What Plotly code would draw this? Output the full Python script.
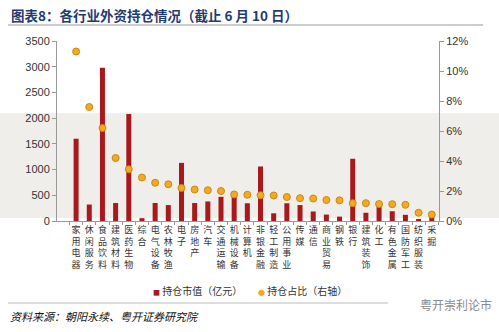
import plotly.graph_objects as go

categories = ["家用电器", "休闲服务", "食品饮料", "建筑材料", "医药生物", "综合", "电气设备",
              "农林牧渔", "电子", "房地产", "汽车", "交通运输", "机械设备", "计算机",
              "非银金融", "轻工制造", "公用事业", "传媒", "通信", "商业贸易", "钢铁",
              "银行", "建筑装饰", "化工", "有色金属", "国防军工", "纺织服装", "采掘"]
holding_value = [1600, 320, 2980, 350, 2080, 55, 350, 310, 1130, 350, 380, 470, 480, 345,
                 1060, 150, 345, 310, 185, 125, 85, 1210, 160, 380, 190, 120, 25, 90]
holding_pct = [11.3, 7.6, 6.2, 4.2, 3.45, 2.9, 2.55, 2.45, 2.2, 2.1, 2.05, 2.0, 1.77, 1.75,
               1.72, 1.7, 1.6, 1.52, 1.5, 1.4, 1.38, 1.19, 1.19, 1.13, 1.12, 1.08, 0.55, 0.43]
left_ticks = [0, 500, 1000, 1500, 2000, 2500, 3000, 3500]
right_ticks = [0, 2, 4, 6, 8, 10, 12]
right_ticklabels = ["0%", "2%", "4%", "6%", "8%", "10%", "12%"]
series_names = ["持仓市值（亿元）", "持仓占比（右轴）"]

vertical_labels = ["<br>".join(list(c)) for c in categories]

BAR_COLOR = "#a8191c"
DOT_COLOR = "#f6a823"

W, H = 499, 332
L, R, T, B = 57, 60, 41, 111
PW, PH = W - L - R, H - T - B


def px(x):
    return (x - L) / PW


def py(y):
    return (H - B - y) / PH


fig = go.Figure()
fig.add_trace(go.Bar(
    x=categories, y=holding_value, name=series_names[0],
    marker=dict(color=BAR_COLOR, line=dict(width=0)), width=0.38,
))
fig.add_trace(go.Scatter(
    x=categories, y=holding_pct, name=series_names[1], yaxis="y2", mode="markers",
    marker=dict(color=DOT_COLOR, size=7, line=dict(color="#c98a10", width=1)),
))

axis_font = dict(family="Liberation Sans, Arial", size=11, color="#333")
legend_font = dict(family="Noto Sans CJK SC", size=10, color="#333")
fig.update_layout(
    width=W, height=H,
    margin=dict(l=L, r=R, t=T, b=B, pad=0),
    paper_bgcolor="white", plot_bgcolor="rgba(0,0,0,0)",
    showlegend=False,
    xaxis=dict(
        type="category", range=[-1.45, 27.55],
        tickvals=categories, ticktext=vertical_labels,
        tickfont=dict(family="Noto Sans CJK SC", size=9, color="#333"),
        tickangle=0, showline=True, linecolor="#999", linewidth=1,
        ticks="outside", ticklen=3, tickcolor="#999", tickson="boundaries",
        showgrid=False, zeroline=False,
    ),
    yaxis=dict(
        range=[0, 3500], tickvals=left_ticks, tickfont=axis_font,
        showline=True, linecolor="#999", linewidth=1,
        ticks="outside", ticklen=4, tickcolor="#999",
        showgrid=False, zeroline=False,
    ),
    yaxis2=dict(
        range=[0, 12], tickvals=right_ticks, ticktext=right_ticklabels,
        tickfont=axis_font, overlaying="y", side="right",
        showline=True, linecolor="#999", linewidth=1,
        ticks="outside", ticklen=4, tickcolor="#999",
        showgrid=False, zeroline=False,
    ),
    shapes=[
        dict(type="rect", xref="paper", yref="paper", x0=px(0), x1=px(499), y0=py(218), y1=py(113),
             fillcolor="#efeeea", line=dict(width=0), layer="below"),
        dict(type="line", xref="paper", yref="paper", x0=px(8), x1=px(483), y0=py(25), y1=py(25),
             line=dict(color="#9a9a9a", width=1)),
        dict(type="line", xref="paper", yref="paper", x0=px(8), x1=px(388), y0=py(303), y1=py(303),
             line=dict(color="#bbbbbb", width=1)),
    ],
    annotations=[
        dict(text="<b>图表8：各行业外资持仓情况（截止 6 月 10 日）</b>", xref="paper", yref="paper",
             x=px(9), y=py(15), xanchor="left", yanchor="middle", showarrow=False,
             font=dict(family="Noto Sans CJK SC", size=13.5, color="#1f3b70")),
        dict(text=f'<span style="color:{BAR_COLOR};font-size:7px">■</span> {series_names[0]}',
             xref="paper", yref="paper", x=px(151), y=py(290), xanchor="left", yanchor="middle",
             showarrow=False, font=legend_font),
        dict(text=f'<span style="color:{DOT_COLOR};font-size:7px">●</span> {series_names[1]}',
             xref="paper", yref="paper", x=px(256), y=py(290), xanchor="left", yanchor="middle",
             showarrow=False, font=legend_font),
        dict(text="<i>资料来源：朝阳永续、粤开证券研究院</i>", xref="paper", yref="paper",
             x=px(8), y=py(316), xanchor="left", yanchor="middle", showarrow=False,
             font=dict(family="Noto Sans CJK SC", size=11, color="#111")),
        dict(text="粤开崇利论市", xref="paper", yref="paper",
             x=px(494), y=py(304), xanchor="right", yanchor="middle", showarrow=False,
             font=dict(family="Noto Sans CJK SC", size=12, color="#8a8a8a")),
    ],
)

fig.write_html("out.html")
